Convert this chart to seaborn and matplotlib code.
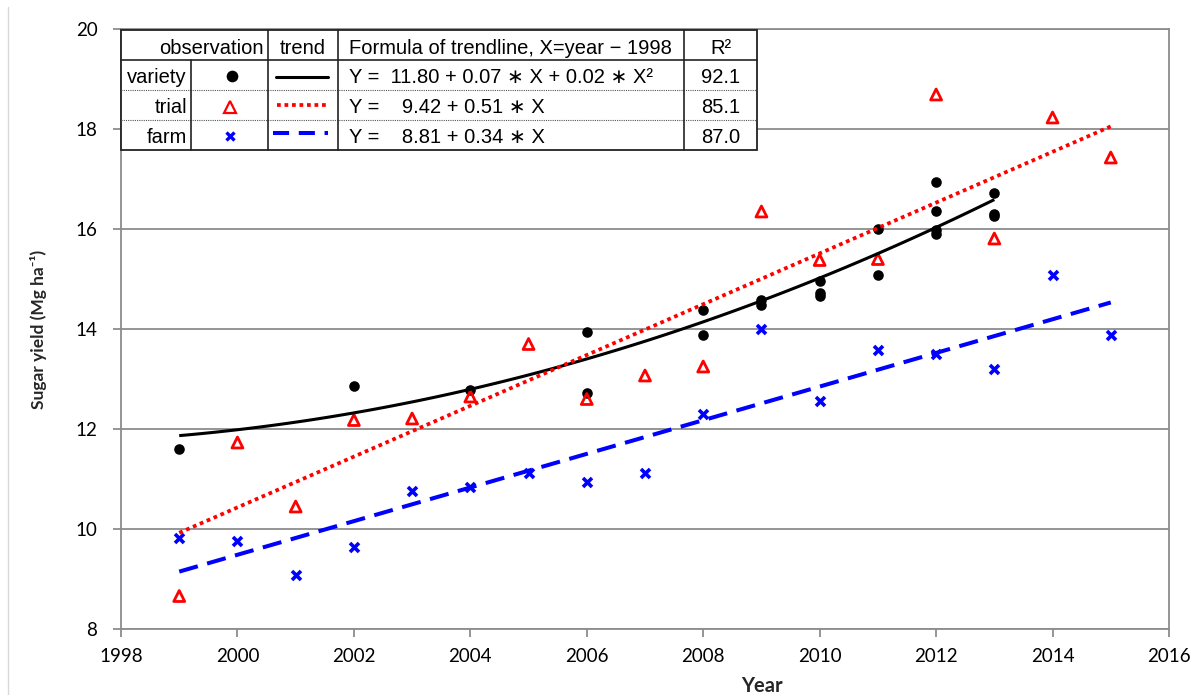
import numpy as np
import matplotlib
matplotlib.use("Agg")
import matplotlib.pyplot as plt
from matplotlib.lines import Line2D
from matplotlib.patches import Rectangle
import seaborn as sns

# Sugar yield observations (Mg ha-1) by year
variety_years = [1999, 2002, 2004, 2006, 2006, 2008, 2008, 2009, 2009, 2010, 2010, 2010,
                 2011, 2011, 2012, 2012, 2012, 2012, 2013, 2013, 2013]
variety_yield = [11.60, 12.87, 12.78, 13.95, 12.72, 14.39, 13.89, 14.59, 14.48, 14.96, 14.72, 14.66,
                 16.00, 15.08, 16.95, 16.37, 15.98, 15.90, 16.72, 16.30, 16.26]

trial_years = list(range(1999, 2016))
trial_yield = [8.66, 11.73, 10.45, 12.18, 12.21, 12.65, 13.70, 12.60, 13.07, 13.25, 16.35,
               15.38, 15.40, 18.69, 15.81, 18.23, 17.43]

farm_years = list(range(1999, 2016))
farm_yield = [9.83, 9.76, 9.08, 9.65, 10.77, 10.84, 11.13, 10.94, 11.13, 12.31, 14.00,
              12.57, 13.59, 13.50, 13.20, 15.08, 13.89]

# Trendline summary table
series_names = ["variety", "trial", "farm"]
formulas = ["Y =  11.80 + 0.07 \u2217 X + 0.02 \u2217 X\u00b2",
            "Y =    9.42 + 0.51 \u2217 X",
            "Y =    8.81 + 0.34 \u2217 X"]
r_squared = ["92.1", "85.1", "87.0"]

x_ticks = list(range(1998, 2017, 2))
y_ticks = list(range(8, 21, 2))

sns.set_style("white")
plt.rcParams["font.family"] = ["Lato", "DejaVu Sans"]

W, H = 1197, 695
fig = plt.figure(figsize=(W / 100, H / 100), dpi=100)
ax = fig.add_axes([121 / W, 1 - 629 / H, (1169 - 121) / W, (629 - 29) / H])

grey = "#8c8c8c"

# observations
sns.scatterplot(x=variety_years, y=variety_yield, ax=ax, marker="o", s=58,
                color="black", edgecolor="black", linewidth=0)
sns.scatterplot(x=trial_years, y=trial_yield, ax=ax, marker="^", s=62,
                color="red", facecolor="none", edgecolor="red", linewidth=2.0)
sns.scatterplot(x=farm_years, y=farm_yield, ax=ax, marker="x", s=42,
                color="blue", edgecolor="blue", linewidth=2.6)

# fitted trendlines
sns.regplot(x=variety_years, y=variety_yield, ax=ax, order=2, scatter=False, ci=None,
            color="black", line_kws=dict(lw=2.2, solid_capstyle="butt"))
sns.regplot(x=trial_years, y=trial_yield, ax=ax, order=1, scatter=False, ci=None,
            color="red", line_kws=dict(lw=2.7, linestyle=(0, (1.0, 1.0))))
sns.regplot(x=farm_years, y=farm_yield, ax=ax, order=1, scatter=False, ci=None,
            color="blue", line_kws=dict(lw=2.9, linestyle=(0, (4.8, 2.4))))

ax.set_xlim(1998, 2016)
ax.set_ylim(8, 20)
ax.set_xticks(x_ticks)
ax.set_yticks(y_ticks)
ax.yaxis.grid(True, color=grey, lw=1.3)
ax.xaxis.grid(False)
ax.set_axisbelow(True)
for side in ["left", "right", "top", "bottom"]:
    ax.spines[side].set_visible(True)
    ax.spines[side].set_color(grey)
    ax.spines[side].set_linewidth(1.3)
ax.tick_params(axis="both", direction="out", length=6, width=1.3, color=grey,
               labelsize=13.5, labelcolor="black")
ax.tick_params(axis="y", pad=11)
ax.tick_params(axis="x", pad=8)
ax.tick_params(left=True, bottom=True)

ax.set_xlabel("Year", fontsize=14.5, fontweight="bold", va="center")
ax.xaxis.set_label_coords((762 - 121) / 1048, -(686 - 629) / 600)
ax.set_ylabel("Sugar yield (Mg ha\u207b\u00b9)", fontsize=12.5, fontweight="bold", va="center")
ax.yaxis.set_label_coords((38 - 121) / 1048, 0.5)

# summary table drawn in pixel coordinates on an overlay
tab = fig.add_axes([0, 0, 1, 1], zorder=5)
tab.set_xlim(0, W)
tab.set_ylim(H, 0)
tab.axis("off")
tab.patch.set_alpha(0)

L, R, T, B = 121, 757, 30, 150
hdr, r1, r2 = 60, 90, 120
v1, v2, v3, v4 = 191, 268, 338, 684
lc = "#222222"
tab.add_patch(Rectangle((L, T), R - L, B - T, facecolor="white", edgecolor=lc, lw=1.3))
tab.plot([L, R], [hdr, hdr], color=lc, lw=1.2)
for yy in (r1, r2):
    tab.plot([L, R], [yy, yy], color="#555555", lw=0.8, linestyle=(0, (1, 1)))
tab.plot([v1, v1], [hdr, B], color=lc, lw=1.2)
for xx in (v2, v3, v4):
    tab.plot([xx, xx], [T, B], color=lc, lw=1.2)

tfont = dict(family=["Liberation Sans", "DejaVu Sans"], fontsize=14.5, color="black")
tab.text(264, 54, "observation", ha="right", va="baseline", **tfont)
tab.text(303, 54, "trend", ha="center", va="baseline", **tfont)
tab.text(349, 54, "Formula of trendline, X=year \u2212 1998", ha="left", va="baseline", **tfont)
tab.text(720.5, 54, "R\u00b2", ha="center", va="baseline", **tfont)

row_base = [83, 113, 143]
row_mid = [76, 106, 135]
for name, f, r2v, yb in zip(series_names, formulas, r_squared, row_base):
    tab.text(187, yb, name, ha="right", va="baseline", **tfont)
    tab.text(349, yb, f, ha="left", va="baseline", **tfont)
    tab.text(720.5, yb, r2v, ha="center", va="baseline", **tfont)

tab.plot([232], [76], marker="o", ms=7.4, color="black", mec="black", ls="none")
tab.plot([230], [107], marker="^", ms=8.2, mfc="none", mec="red", mew=1.6, ls="none")
tab.plot([230], [136], marker="x", ms=6.2, mec="blue", mew=2.4, ls="none")
tab.plot([276, 328], [77, 77], color="black", lw=2.2)
tab.plot([277, 328], [105, 105], color="red", lw=2.7, linestyle=(0, (1.0, 1.0)))
tab.plot([273, 328], [133, 133], color="blue", lw=2.9, linestyle=(0, (4.0, 2.4)))

# thin frame line at the left edge of the image
fig.add_artist(Line2D([8 / W, 8 / W], [0, 1 - 7 / H], transform=fig.transFigure,
                      color="#d9d9d9", lw=1))

fig.savefig("out.png", dpi=100)
